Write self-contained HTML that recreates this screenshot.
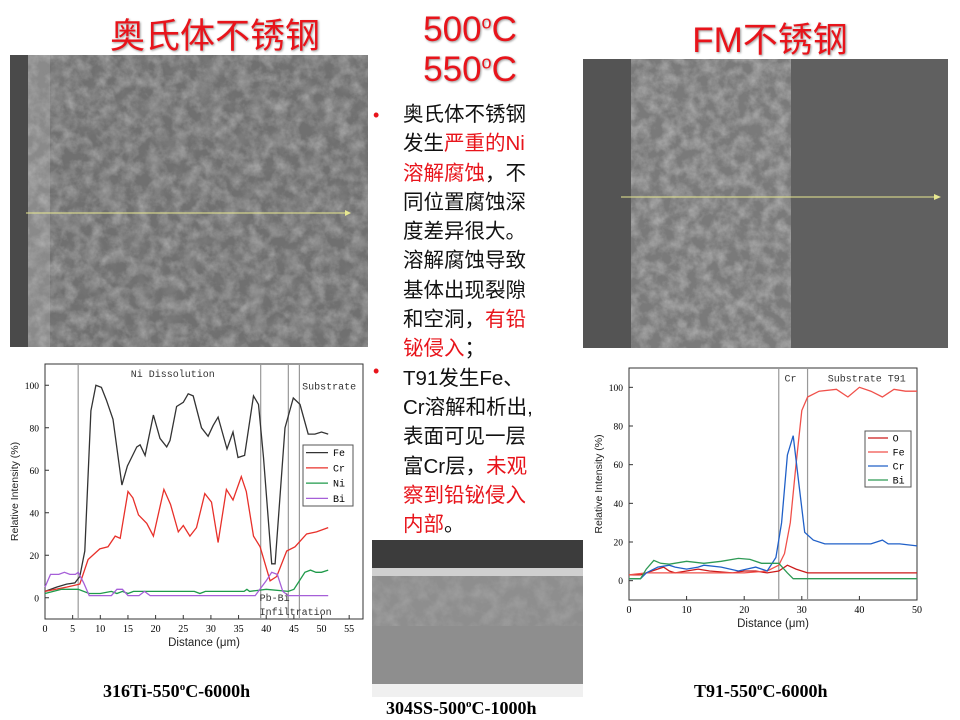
<!DOCTYPE html>
<html><head><meta charset="utf-8">
<style>
body{margin:0;width:960px;height:720px;background:#fff;position:relative;overflow:hidden;font-family:"Liberation Sans","Noto Sans CJK SC",sans-serif}
.t{position:absolute;color:#e8141b;font-size:35px;text-align:center;white-space:nowrap;text-shadow:1px 1px 2px #999}
#txt{position:absolute;left:403px;top:100px;width:170px;font-size:20.5px;line-height:29.3px;color:#111}
#txt .r{color:#e8141b}
.bul{position:absolute;color:#e8141b;font-size:18px}
.cap{position:absolute;font-family:"Liberation Serif",serif;font-weight:bold;font-size:18px;white-space:nowrap}
.cap sup{font-size:11px}
svg{position:absolute;left:0;top:0}
</style></head><body>
<div class="t" style="left:100px;top:8px;width:230px">奥氏体不锈钢</div>
<div class="t" style="left:400px;top:10px;width:140px">500<sup style="font-size:18px">o</sup>C</div>
<div class="t" style="left:400px;top:50px;width:140px">550<sup style="font-size:18px">o</sup>C</div>
<div class="t" style="left:660px;top:12px;width:220px">FM不锈钢</div>

<svg width="960" height="720">
<defs>
<filter id="tex" x="0" y="0" width="100%" height="100%"><feTurbulence type="fractalNoise" baseFrequency="0.08" numOctaves="4" seed="3"/><feColorMatrix type="matrix" values="0 0 0 0 0.55  0 0 0 0 0.55  0 0 0 0 0.55  0 0 0 1.8 -0.6"/></filter>
<filter id="tex2" x="0" y="0" width="100%" height="100%"><feTurbulence type="fractalNoise" baseFrequency="0.06" numOctaves="3" seed="9"/><feColorMatrix type="matrix" values="0 0 0 0 0.25  0 0 0 0 0.25  0 0 0 0 0.25  0 0 0 2 -0.9"/></filter>
</defs>
<g>
<rect x="10" y="55" width="358" height="292" fill="#707070"/>
<rect x="10" y="55" width="18" height="292" fill="#4a4a4a"/>
<rect x="28" y="55" width="22" height="292" fill="#8a8a8a"/>
<rect x="28" y="55" width="340" height="292" filter="url(#tex)" opacity="0.6"/>
<rect x="28" y="55" width="340" height="292" filter="url(#tex2)" opacity="0.6"/>
<line x1="26" y1="213" x2="345" y2="213" stroke="#e8e890" stroke-width="1"/><polygon points="345,210 351,213 345,216" fill="#e8e890"/>
</g>
<g>
<rect x="583" y="59" width="365" height="289" fill="#606060"/>
<rect x="583" y="59" width="48" height="289" fill="#545454"/>
<rect x="631" y="59" width="160" height="289" fill="#7a7a7a"/>
<rect x="631" y="59" width="160" height="289" filter="url(#tex)" opacity="0.65"/>
<line x1="621" y1="197" x2="934" y2="197" stroke="#e8e890" stroke-width="1"/><polygon points="934,194 941,197 934,200" fill="#e8e890"/>
</g>
<g>
<rect x="372" y="540" width="211" height="157" fill="#8e8e8e"/>
<rect x="372" y="540" width="211" height="28" fill="#3c3c3c"/>
<rect x="372" y="568" width="211" height="8" fill="#d0d0d0"/>
<rect x="372" y="576" width="211" height="50" filter="url(#tex)" opacity="0.3"/>
<rect x="372" y="684" width="211" height="13" fill="#f0f0f0"/>
</g>
<g id="c1"></g><g id="c2"></g>
</svg>

<div class="bul" style="left:373px;top:105px">•</div>
<div class="bul" style="left:373px;top:361px">•</div>
<div id="txt">奥氏体不锈钢<br>发生<span class="r">严重的Ni</span><br><span class="r">溶解腐蚀</span>，不<br>同位置腐蚀深<br>度差异很大。<br>溶解腐蚀导致<br>基体出现裂隙<br>和空洞，<span class="r">有铅</span><br><span class="r">铋侵入</span>；<br>T91发生Fe、<br>Cr溶解和析出,<br>表面可见一层<br>富Cr层，<span class="r">未观</span><br><span class="r">察到铅铋侵入</span><br><span class="r">内部</span>。</div>

<div class="cap" style="left:103px;top:681px">316Ti-550<sup>o</sup>C-6000h</div>
<div class="cap" style="left:386px;top:698px">304SS-500<sup>o</sup>C-1000h</div>
<div class="cap" style="left:694px;top:681px">T91-550<sup>o</sup>C-6000h</div>

<script>
// Left chart data (316Ti)
const L_fe=[[0,3],[2.1,5],[3.9,6.4],[5.4,7],[6.3,10],[7.2,22],[8.3,88],[9.2,100],[10.2,99],[11.1,93],[12.3,84],[13.9,53],[14.9,62],[16.6,71],[17.2,72],[18.1,67],[19.6,86],[20.8,75],[22,71],[22.6,74],[23.8,90],[25,92],[25.9,96],[26.8,95],[28.3,80],[29.5,76],[30.4,81],[31.3,85],[32.9,70],[34,78],[34.9,66],[36.1,67],[37.7,95],[38.6,91],[39.5,66],[41,16],[41.6,16],[43.4,80],[44.9,94],[46.1,91],[47.6,77],[48.8,77],[50,78],[51.2,77]];
const L_cr=[[0,3],[3.9,5],[6.3,6.4],[7.8,18],[9.9,23],[11.4,24],[12.7,29],[13.6,28],[15,50],[15.9,47],[16.9,39],[18.4,35],[19.6,29],[21.5,51],[22.7,44],[24.1,31],[25,34],[26.2,29],[27.4,33],[28.9,49],[30.1,45],[31.3,26],[32.8,51],[34,46],[35.5,57],[36.4,50],[37.7,29],[38.9,24],[40.7,8],[41.9,10],[43.7,22],[45.2,24],[47.3,30],[49.1,31],[51.2,33]];
const L_ni=[[0,2],[1.5,3],[3,4],[6,4],[8,2],[10,2],[12,3],[13,2],[14,3],[15,2],[16,3],[27,3],[28,2],[29,3],[36,3],[36.5,4],[37,3],[40,4],[44,3],[45,4],[47,12],[48,13],[49,12],[50,12],[51.2,13]];
const L_bi=[[0,5],[1,11],[2.5,11],[3.5,12],[4.5,11],[5.5,11],[6,12],[7,7],[8,1],[12,1],[13,4],[14,4],[15,1],[17,1],[18,3],[19,1],[38,1],[40,8],[41,12],[42,11],[43,3],[44,1],[51.2,1]];
const L_xticks=[0,5,10,15,20,25,30,35,40,45,50,55];
const L_yticks=[0,20,40,60,80,100];
const L_vlines=[6,39,44,46];
// Right chart data (T91)
const R_o=[[0,3],[2,3],[4,5],[6,7],[7,5],[8,4],[10,5],[12,6],[14,5],[18,4],[20,5],[22,5],[24,4],[26,5],[27.5,8],[29,6],[31,4],[50,4]];
const R_fe=[[0,3],[3,4],[20,4],[24,5],[26,8],[27,14],[28,30],[29,60],[30,88],[31,95],[33,98],[36,99],[38,95],[40,100],[42,98],[44,95],[46,99],[48,98],[50,98]];
const R_cr=[[0,1],[2,1],[3,4],[5,7],[7,8],[8,7],[10,6],[12,7],[13,8],[16,7],[19,5],[22,7],[24,5],[25.5,12],[26.5,30],[27.5,65],[28.5,75],[29.5,50],[30.5,25],[32,21],[34,19],[36,19],[38,19],[42,19],[44,21],[45,19],[47,19],[50,18]];
const R_bi=[[0,1],[2,1],[3,6],[4.3,10.5],[5.5,9],[7,8.5],[10,10],[13,9],[16,10],[19,11.5],[21,11],[23,9],[26,9],[27.5,4],[28.5,1],[50,1]];
const R_xticks=[0,10,20,30,40,50];
const R_yticks=[0,20,40,60,80,100];
const R_vlines=[26,31];

const NS="http://www.w3.org/2000/svg";
function mk(p,tag,at,txt){const e=document.createElementNS(NS,tag);for(const k in at)e.setAttribute(k,at[k]);if(txt!==undefined)e.textContent=txt;p.appendChild(e);return e;}

function chart(g,cfg){
 const X=v=>cfg.x0+(v-cfg.xmin)*(cfg.x1-cfg.x0)/(cfg.xmax-cfg.xmin);
 const Y=v=>cfg.y0-(v-cfg.ymin)*(cfg.y0-cfg.y1)/(cfg.ymax-cfg.ymin);
 const bg=mk(g,'rect',{x:cfg.x0,y:cfg.y1,width:cfg.x1-cfg.x0,height:cfg.y0-cfg.y1,fill:'#fff',stroke:'#333','stroke-width':1});
 
 
 cfg.xticks.forEach(t=>{
  mk(g,'line',{x1:X(t),x2:X(t),y1:cfg.y0,y2:cfg.y0-4,stroke:'#333'});
  const tx=mk(g,'text',{x:X(t),y:cfg.y0+13,'font-size':10,'text-anchor':'middle','font-family':'Liberation Serif, serif'},t);
  
  
 });
 cfg.yticks.forEach(t=>{
  mk(g,'line',{x1:cfg.x0,x2:cfg.x0+4,y1:Y(t),y2:Y(t),stroke:'#333'});
  const tx=mk(g,'text',{x:cfg.x0-6,y:Y(t)+3.5,'font-size':9.5,'text-anchor':'end','font-family':'Liberation Serif, serif'},t);
  
  
 });
 cfg.vlines.forEach(v=>{
  const l=mk(g,'line',{x1:X(v),x2:X(v),y1:cfg.y1,y2:cfg.y0,stroke:'#999','stroke-width':1.2});
  
  
 });
 cfg.series.forEach(s=>{
  const p=mk(g,'polyline',{points:s.d.map(q=>X(q[0]).toFixed(1)+','+Y(q[1]).toFixed(1)).join(' '),fill:'none',stroke:s.c,'stroke-width':1.3});
  
  
 });
 const xt=mk(g,'text',{x:(cfg.x0+cfg.x1)/2,y:cfg.y0+27,'font-size':11.5,'text-anchor':'middle','font-family':'Liberation Sans, sans-serif',fill:'#222'},'Distance (μm)');
 
 
 const cy=(cfg.y0+cfg.y1)/2;
 const yt=mk(g,'text',{x:cfg.x0-27,y:cy,'font-size':10.5,'text-anchor':'middle','font-family':'Liberation Sans, sans-serif',fill:'#222',transform:`rotate(-90 ${cfg.x0-27} ${cy})`},'Relative Intensity (%)');
 
 
 const lg=cfg.leg;
 const lb=mk(g,'rect',{x:lg.x,y:lg.y,width:lg.w,height:lg.h,fill:'#fff',stroke:'#555'});
 
 
 const step=lg.h/cfg.series.length;
 cfg.series.forEach((s,i)=>{
  const yy=lg.y+step*(i+0.5);
  mk(g,'line',{x1:lg.x+3,x2:lg.x+lg.w*0.5,y1:yy,y2:yy,stroke:s.c,'stroke-width':1.3});
  const t=mk(g,'text',{x:lg.x+lg.w*0.6,y:yy+3.5,'font-size':10,'font-family':'Liberation Mono, monospace'},s.n);
  
  
 });
 cfg.labels.forEach(l=>{
  const t=mk(g,'text',{x:X(l[0]),y:Y(l[1]),'font-size':10,'font-family':'Liberation Mono, monospace',fill:'#333'},l[2]);
  
  
 });
}
chart(document.getElementById('c1'),{name:'left-chart',x0:45,x1:363,y0:619,y1:364,xmin:0,xmax:57.5,ymin:-10,ymax:110,
 xticks:L_xticks,yticks:L_yticks,vlines:L_vlines,
 series:[{n:'Fe',c:'#333',d:L_fe},{n:'Cr',c:'#e8302a',d:L_cr},{n:'Ni',c:'#1f9a4a',d:L_ni},{n:'Bi',c:'#a65fd8',d:L_bi}],
 leg:{x:303,y:445,w:50,h:61},
 labels:[[15.5,104,'Ni Dissolution'],[46.5,98,'Substrate'],[38.8,-1.5,'Pb-Bi'],[38.8,-8,'Infiltration']]});
chart(document.getElementById('c2'),{name:'right-chart',x0:629,x1:917,y0:600,y1:368,xmin:0,xmax:50,ymin:-10,ymax:110,
 xticks:R_xticks,yticks:R_yticks,vlines:R_vlines,
 series:[{n:'O',c:'#cc1a1a',d:R_o},{n:'Fe',c:'#f0504a',d:R_fe},{n:'Cr',c:'#2060c8',d:R_cr},{n:'Bi',c:'#2e9a55',d:R_bi}],
 leg:{x:865,y:431,w:46,h:56},
 labels:[[27,103,'Cr'],[34.5,103,'Substrate T91']]});
</script>
</body></html>
